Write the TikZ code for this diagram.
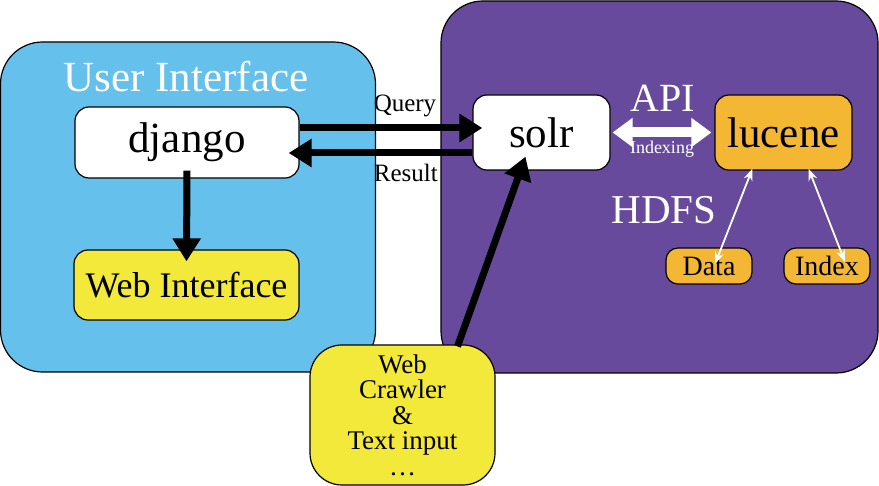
\documentclass[tikz,border=0pt]{standalone}
\usepackage{fontspec}
\setmainfont{Liberation Serif}
\usetikzlibrary{arrows.meta}
\definecolor{uiblue}{HTML}{65C0EC}
\definecolor{hpurple}{HTML}{674A9B}
\definecolor{wyellow}{HTML}{F2E93B}
\definecolor{lorange}{HTML}{F4B733}
\newcommand{\fs}[1]{\fontsize{#1}{#1}\selectfont}
\begin{document}
\begin{tikzpicture}[x=1pt, y=-1pt,
		area/.style = {draw, line width=1.2pt, rounded corners=42pt, inner sep=0pt},
		box/.style = {draw, line width=1.2pt, rounded corners=14pt, inner sep=0pt},
		pill/.style = {draw, line width=1.2pt, rounded corners=12pt, inner sep=0pt, fill=lorange, minimum width=86pt, minimum height=36pt, font=\fs{28}},
		bigarrow/.style = {line width=7pt, -{Triangle[length=23pt,width=27pt]}},
		thinarrow/.style = {white, line width=1.8pt, {Stealth[length=12pt,width=9pt]}-{Stealth[length=12pt,width=9pt]}}]
		\useasboundingbox (0,0) rectangle (879,486);
		\node[area, fill=uiblue, minimum width=375pt, minimum height=330pt] at (188,207)(ui){};
		\node[area, fill=hpurple, minimum width=437pt, minimum height=372pt] at (659.5,187)(hdfs){};
		\node[white, font=\fs{43}] at (186,77){User Interface};
		\node[white, font=\fs{40}] at (663,98){API};
		\node[white, font=\fs{18}] at (662,149){Indexing};
		\node[white, font=\fs{41}] at (664,210){HDFS};

		\node[box, fill=white, minimum width=224pt, minimum height=71pt, font=\fs{43}] at (187,142.5)(django){django};
		\node[box, fill=wyellow, minimum width=225pt, minimum height=70pt, font=\fs{36}] at (186.5,285)(web){Web Interface};
		\node[box, fill=white, minimum width=137pt, minimum height=75pt, font=\fs{43}] at (541.5,132.5)(solr){solr};
		\node[box, fill=lorange, minimum width=137pt, minimum height=75pt, font=\fs{43}] at (783.5,132.5)(lucene){lucene};
		\node[pill] at (709,266)(data){Data};
		\node[pill] at (827,266)(index){Index};
		\node[box, fill=wyellow, rounded corners=32pt, minimum width=185pt, minimum height=140pt, align=center, font=\fontsize{27}{25.5}\selectfont] at (402.5,415)(crawler){Web\\Crawler\\\&\\Text input\\\dots};

		\draw[bigarrow, shorten >=-10pt] (django.east |- 0,128) -- (solr.west |- 0,128)
			node[pos=0.61, above=4pt, font=\fs{25}, black]{Query};
		\draw[bigarrow, shorten >=-11pt] (solr.west |- 0,153) -- (django.east |- 0,153)
			node[pos=0.385, below=4pt, font=\fs{25}, black]{Result};
		\draw[bigarrow] ([yshift=8pt]django.south) -- ([yshift=-12pt]web.north);
		\draw[bigarrow] ([xshift=55pt,yshift=-2pt]crawler.north) -- ([xshift=-16pt,yshift=14pt]solr.south);
		\draw[white, line width=10pt, {Triangle[length=20pt,width=28pt]}-{Triangle[length=20pt,width=28pt]}]
			([xshift=2pt]solr.east) -- ([xshift=-3pt]lucene.west);
		\draw[thinarrow] ([xshift=-31pt,yshift=2pt]lucene.south) -- ([xshift=6pt,yshift=2pt]data.center);
		\draw[thinarrow] ([xshift=25pt,yshift=2pt]lucene.south) -- ([xshift=18pt,yshift=4pt]index.center);
\end{tikzpicture}
\end{document}
